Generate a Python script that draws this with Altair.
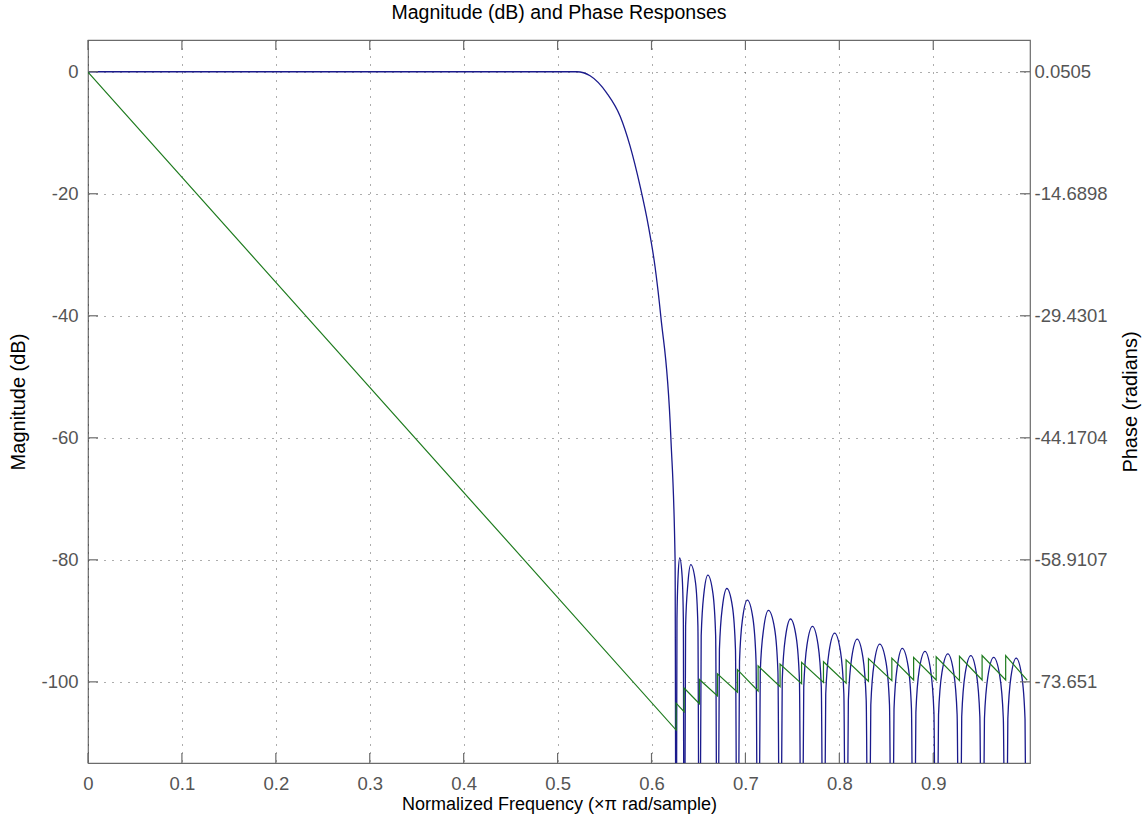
import altair as alt
import pandas as pd

# ---------------- data ----------------
x_ticks = [0, 0.1, 0.2, 0.3, 0.4, 0.5, 0.6, 0.7, 0.8, 0.9]
mag_ticks = [0, -20, -40, -60, -80, -100]
phase_ticks = [0.0505, -14.6898, -29.4301, -44.1704, -58.9107, -73.651]

# passband + transition band of the magnitude response (dB)
pass_freq = [0.0, 0.5205, 0.5346, 0.5524, 0.5666, 0.5772, 0.5879, 0.5967,
             0.6038, 0.6099, 0.6206, 0.6251]
pass_db = [0.0, 0.0, -0.66, -3.5, -7.3, -12.2, -18.8, -25.3,
           -32.0, -40.1, -60.0, -80.0]

# stopband lobes: null, shoulders, peak (dB); nulls fall far below the axis
stop_freq = [
    0.6262, 0.6271, 0.6283, 0.6300, 0.6326, 0.6339,
    0.6347, 0.6363, 0.6388, 0.6418, 0.6469, 0.6494,
    0.6510, 0.6529, 0.6558, 0.6600, 0.6654, 0.6683,
    0.6702, 0.6723, 0.6755, 0.6802, 0.6862, 0.6894,
    0.6915, 0.6937, 0.6970, 0.7021, 0.7080, 0.7113,
    0.7135, 0.7158, 0.7194, 0.7245, 0.7311, 0.7346,
    0.7369, 0.7392, 0.7426, 0.7480, 0.7541, 0.7575,
    0.7598, 0.7621, 0.7656, 0.7714, 0.7773, 0.7808,
    0.7831, 0.7855, 0.7891, 0.7950, 0.8012, 0.8048,
    0.8072, 0.8096, 0.8132, 0.8190, 0.8251, 0.8286,
    0.8310, 0.8335, 0.8372, 0.8430, 0.8497, 0.8534,
    0.8559, 0.8582, 0.8617, 0.8670, 0.8733, 0.8768,
    0.8791, 0.8815, 0.8851, 0.8912, 0.8971, 0.9007,
    0.9031, 0.9056, 0.9093, 0.9155, 0.9217, 0.9254,
    0.9279, 0.9303, 0.9339, 0.9400, 0.9460, 0.9496,
    0.9520, 0.9545, 0.9583, 0.9643, 0.9708, 0.9746,
    0.9771, 0.9794, 0.9828, 0.9883, 0.9943, 0.9977,
    1.0,
]
stop_db = [
    -150, -89.7, -82.7, -79.7, -82.7, -89.7,
    -150, -90.8, -83.8, -80.8, -83.8, -90.8,
    -150, -92.5, -85.5, -82.5, -85.5, -92.5,
    -150, -94.7, -87.7, -84.7, -87.7, -94.7,
    -150, -96.6, -89.6, -86.6, -89.6, -96.6,
    -150, -98.3, -91.3, -88.3, -91.3, -98.3,
    -150, -99.7, -92.7, -89.7, -92.7, -99.7,
    -150, -100.9, -93.9, -90.9, -93.9, -100.9,
    -150, -102.0, -95.0, -92.0, -95.0, -102.0,
    -150, -103.0, -96.0, -93.0, -96.0, -103.0,
    -150, -103.8, -96.8, -93.8, -96.8, -103.8,
    -150, -104.5, -97.5, -94.5, -97.5, -104.5,
    -150, -105.0, -98.0, -95.0, -98.0, -105.0,
    -150, -105.4, -98.4, -95.4, -98.4, -105.4,
    -150, -105.7, -98.7, -95.7, -98.7, -105.7,
    -150, -106.0, -99.0, -96.0, -99.0, -106.0,
    -150, -106.1, -99.1, -96.1, -99.1, -106.1,
    -150,
]

# phase response (radians): linear descent, then +pi jumps at each null
phase_freq = [0.0,
              0.6262, 0.6262, 0.6347, 0.6347, 0.6510, 0.6510, 0.6702, 0.6702,
              0.6915, 0.6915, 0.7135, 0.7135, 0.7369, 0.7369, 0.7598, 0.7598,
              0.7831, 0.7831, 0.8072, 0.8072, 0.8310, 0.8310, 0.8559, 0.8559,
              0.8791, 0.8791, 0.9031, 0.9031, 0.9279, 0.9279, 0.9520, 0.9520,
              0.9771, 0.9771,
              1.0]
phase_rad = [0.0,
             -79.47, -76.23, -77.26, -74.39, -76.30, -73.36, -75.35, -72.69,
             -74.90, -72.18, -74.76, -71.73, -74.24, -71.51, -73.87, -71.29,
             -73.72, -71.22, -73.80, -71.00, -73.58, -70.85, -73.50, -70.78,
             -73.43, -70.70, -73.43, -70.63, -73.50, -70.56, -73.43, -70.48,
             -73.43, -70.48,
             -73.43]

# ---------------- layout ----------------
W, H = 942, 723
FONT = "Liberation Sans"
BLUE = "#1a1a8c"
GREEN = "#1e7b1e"
FRAME = "#6b6b6b"
TICK = 10

mag_lo, mag_hi = -113.3, 5.2
rad_per_db = (phase_ticks[0] - phase_ticks[1]) / 20.0
ph_lo = phase_ticks[0] + rad_per_db * mag_lo
ph_hi = phase_ticks[0] + rad_per_db * mag_hi

x_scale = alt.Scale(domain=[0, 1.003], nice=False, zero=False)
ymag_scale = alt.Scale(domain=[mag_lo, mag_hi], nice=False, zero=False)
yph_scale = alt.Scale(domain=[ph_lo, ph_hi], nice=False, zero=False)

minus_fix = "replace(datum.label, '\u2212', '-')"

X_TITLE = "Normalized Frequency (\u00d7\u03c0 rad/sample)"
Y_TITLE = "Magnitude (dB)"

x_axis = alt.Axis(values=x_ticks, format="~g", title=X_TITLE, labelFlush=False,
                  labelPadding=11, titleX=W / 2, titleY=41, titleBaseline="middle",
                  titleAlign="center", titleFontSize=18, grid=True)
ymag_axis = alt.Axis(values=mag_ticks, title=Y_TITLE, labelPadding=10,
                     labelExpr=minus_fix, labelFlush=False,
                     titleX=-70, titleY=H / 2, titleAngle=270, titleBaseline="middle",
                     titleAlign="center", titleFontSize=20, grid=True)
yph_axis = alt.Axis(values=phase_ticks, orient="right", format=".6~g", labelExpr=minus_fix,
                    title="Phase (radians)", labelPadding=4, titleFontSize=20,
                    labelFlush=False,
                    titleX=100, titleY=H / 2, titleAngle=270, titleBaseline="middle",
                    titleAlign="center", grid=False)

mag_df = pd.DataFrame({"freq": pass_freq + stop_freq, "db": pass_db + stop_db})
phase_df = pd.DataFrame({"freq": phase_freq, "rad": phase_rad,
                         "i": list(range(len(phase_freq)))})
xt_df = pd.DataFrame({"freq": x_ticks})
yt_df = pd.DataFrame({"db": mag_ticks})

X_ENC = alt.X("freq:Q", scale=x_scale, axis=x_axis, title=X_TITLE)
Y_ENC = alt.Y("db:Q", scale=ymag_scale, axis=ymag_axis, title=Y_TITLE)

mag_line = alt.Chart(mag_df).mark_line(
    color=BLUE, strokeWidth=1.3, clip=True, interpolate="monotone"
).encode(x=X_ENC, y=Y_ENC)

tick_bottom = alt.Chart(xt_df).mark_rule(color=FRAME, strokeWidth=1.2).encode(
    x=X_ENC, y=alt.value(H), y2=alt.value(H - TICK),
)
tick_top = alt.Chart(xt_df).mark_rule(color=FRAME, strokeWidth=1.2).encode(
    x=X_ENC, y=alt.value(0), y2=alt.value(TICK),
)
tick_left = alt.Chart(yt_df).mark_rule(color=FRAME, strokeWidth=1.2).encode(
    y=Y_ENC, x=alt.value(0), x2=alt.value(TICK),
)
tick_right = alt.Chart(yt_df).mark_rule(color=FRAME, strokeWidth=1.2).encode(
    y=Y_ENC, x=alt.value(W - TICK), x2=alt.value(W),
)

phase_line = alt.Chart(phase_df).mark_line(
    color=GREEN, strokeWidth=1.2, clip=True
).encode(
    x=X_ENC,
    y=alt.Y("rad:Q", scale=yph_scale, axis=yph_axis, title="Phase (radians)"),
    order=alt.Order("i:Q"),
)

mag_layer = alt.layer(mag_line, tick_bottom, tick_top, tick_left, tick_right)
phase_layer = alt.layer(phase_line)

chart = alt.layer(mag_layer, phase_layer).resolve_scale(y="independent").properties(
    width=W, height=H,
    padding={"left": 88, "top": 40, "right": 1143 - 88 - W, "bottom": 820 - 40 - H},
    autosize=alt.AutoSizeParams(type="none"),
    background="white",
    title=alt.TitleParams(
        "Magnitude (dB) and Phase Responses", font=FONT, fontSize=19.5,
        fontWeight="normal", color="black", anchor="middle", offset=16,
    ),
).configure_view(
    stroke=FRAME, strokeWidth=1.2
).configure_axis(
    labelFont=FONT, labelFontSize=18.5, labelColor="#555555",
    titleFont=FONT, titleFontSize=17, titleColor="black", titleFontWeight="normal",
    domain=False, ticks=False, tickSize=0,
    gridColor="#333333", gridDash=[1, 7], gridWidth=1, gridOpacity=0.8,
)

chart.save("out.html", embed_options={"renderer": "svg", "actions": False})
